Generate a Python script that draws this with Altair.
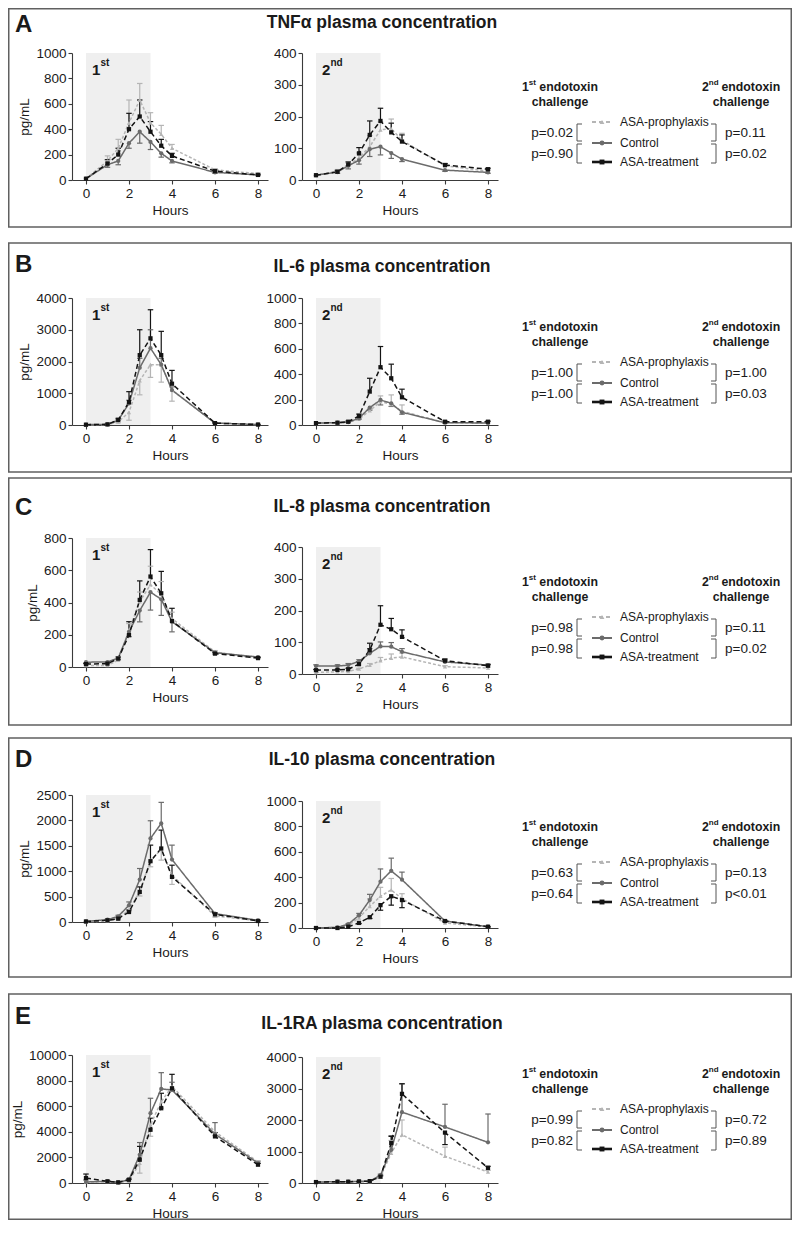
import altair as alt
import pandas as pd

# ---------------------------------------------------------------- data
TIMES = [0, 1, 1.5, 2, 2.5, 3, 3.5, 4, 6, 8]
SERIES = ["ASA-prophylaxis", "Control", "ASA-treatment"]
HOUR_TICKS = [0, 2, 4, 6, 8]
SHADE_HOURS = [0, 3]

LETTERS = ["A", "B", "C", "D", "E"]
TITLES = ["TNFα plasma concentration", "IL-6 plasma concentration",
          "IL-8 plasma concentration", "IL-10 plasma concentration",
          "IL-1RA plasma concentration"]
CHALLENGE_NUM = ["1", "2"]
CHALLENGE_SUP = ["st", "nd"]

YMAX_1ST = [1000, 4000, 800, 2500, 10000]
YMAX_2ND = [400, 1000, 400, 1000, 4000]
YTICKS_1ST = [[0, 200, 400, 600, 800, 1000], [0, 1000, 2000, 3000, 4000],
              [0, 200, 400, 600, 800], [0, 500, 1000, 1500, 2000, 2500],
              [0, 2000, 4000, 6000, 8000, 10000]]
YTICKS_2ND = [[0, 100, 200, 300, 400], [0, 200, 400, 600, 800, 1000],
              [0, 100, 200, 300, 400], [0, 200, 400, 600, 800, 1000],
              [0, 1000, 2000, 3000, 4000]]

P_1ST_TOP = ["p=0.02", "p=1.00", "p=0.98", "p=0.63", "p=0.99"]
P_1ST_BOT = ["p=0.90", "p=1.00", "p=0.98", "p=0.64", "p=0.82"]
P_2ND_TOP = ["p=0.11", "p=1.00", "p=0.11", "p=0.13", "p=0.72"]
P_2ND_BOT = ["p=0.02", "p=0.03", "p=0.02", "p<0.01", "p=0.89"]

# TNF-alpha
TNF1_PRO = [10, 150, 250, 450, 630, 450, 360, 250, 80, 50]
TNF1_PRO_E = [0, 40, 70, 180, 130, 80, 70, 30, 10, 5]
TNF1_CON = [10, 120, 150, 290, 380, 300, 210, 150, 60, 40]
TNF1_CON_E = [0, -20, -30, -40, -90, -60, -30, -15, -8, -5]
TNF1_TRE = [10, 130, 200, 400, 500, 380, 270, 190, 70, 40]
TNF1_TRE_E = [0, 30, 50, 125, 130, 80, 50, 20, 10, 5]
TNF2_PRO = [15, 28, 45, 70, 105, 158, 162, 125, 45, 28]
TNF2_PRO_E = [0, 5, 8, 15, 35, 25, 30, 22, 5, 3]
TNF2_CON = [15, 25, 45, 62, 97, 105, 85, 66, 31, 24]
TNF2_CON_E = [0, -4, -10, -12, -23, -26, -17, -8, -4, -3]
TNF2_TRE = [15, 26, 49, 84, 142, 186, 150, 121, 47, 34]
TNF2_TRE_E = [0, 4, 8, 18, 44, 40, 29, 21, 5, 3]
# IL-6
IL6_1_PRO = [5, 10, 100, 400, 1400, 1900, 1900, 1100, 60, 15]
IL6_1_PRO_E = [0, 0, -30, -250, -450, -400, -550, -350, -10, 0]
IL6_1_CON = [10, 20, 150, 680, 1800, 2420, 1900, 1100, 60, 15]
IL6_1_CON_E = [0, 0, 20, 100, 300, 580, 200, 100, 10, 0]
IL6_1_TRE = [10, 20, 160, 720, 2200, 2730, 2200, 1300, 60, 15]
IL6_1_TRE_E = [0, 5, 50, 330, 800, 900, 750, 420, 10, 5]
IL6_2_PRO = [15, 18, 22, 45, 113, 184, 163, 108, 18, 15]
IL6_2_PRO_E = [0, 0, 3, 8, 15, 45, 74, 50, 3, 0]
IL6_2_CON = [15, 18, 22, 53, 137, 197, 171, 100, 18, 16]
IL6_2_CON_E = [0, 0, -3, -8, -20, -39, -25, -15, -3, 0]
IL6_2_TRE = [15, 18, 26, 71, 263, 455, 368, 218, 26, 26]
IL6_2_TRE_E = [0, 2, 5, 15, 105, 163, 111, 64, 4, 4]
# IL-8
IL8_1_PRO = [10, 10, 42, 229, 405, 510, 450, 300, 94, 52]
IL8_1_PRO_E = [0, 0, 5, 40, 60, 115, 80, 40, 8, 5]
IL8_1_CON = [30, 31, 56, 218, 350, 464, 420, 281, 89, 62]
IL8_1_CON_E = [-10, -5, -10, -30, -70, -111, -100, -63, -8, -5]
IL8_1_TRE = [18, 21, 52, 198, 416, 561, 457, 285, 83, 56]
IL8_1_TRE_E = [5, 5, 10, 83, 118, 167, 136, 79, 8, 5]
IL8_2_PRO = [5, 7, 8, 16, 28, 42, 50, 54, 23, 19]
IL8_2_PRO_E = [0, 0, 0, 2, 5, 10, 13, 12, 3, 3]
IL8_2_CON = [25, 25, 28, 40, 65, 87, 86, 70, 38, 28]
IL8_2_CON_E = [4, 4, 5, 5, 15, 14, 13, 10, 4, 3]
IL8_2_TRE = [12, 13, 15, 31, 75, 155, 141, 117, 42, 26]
IL8_2_TRE_E = [2, 2, 3, 8, 22, 60, 34, 22, 5, 3]
# IL-10
IL10_1_PRO = [5, 20, 60, 243, 592, 1217, 1428, 920, 118, 25]
IL10_1_PRO_E = [0, 0, -10, -40, -80, -130, -210, -180, -20, -5]
IL10_1_CON = [13, 46, 112, 329, 836, 1645, 1941, 1230, 164, 33]
IL10_1_CON_E = [0, 10, 20, 66, 217, 348, 414, 283, 20, 5]
IL10_1_TRE = [10, 33, 66, 197, 592, 1197, 1447, 888, 151, 20]
IL10_1_TRE_E = [0, 5, 15, 40, 99, 316, 362, 230, 20, 5]
IL10_2_PRO = [0, 5, 20, 80, 170, 250, 300, 230, 40, 8]
IL10_2_PRO_E = [0, 0, 5, 20, 60, 70, 90, 40, 5, 2]
IL10_2_CON = [0, 5, 30, 100, 220, 365, 450, 380, 55, 10]
IL10_2_CON_E = [0, 0, 5, 15, 45, 100, 100, 60, 5, 2]
IL10_2_TRE = [0, 0, 10, 40, 85, 180, 250, 220, 55, 10]
IL10_2_TRE_E = [0, 0, 0, -5, -10, -40, -70, -60, -5, -2]
# IL-1RA
IL1RA_1_PRO = [80, 100, 20, 150, 1550, 4550, 6350, 7550, 4000, 1650]
IL1RA_1_PRO_E = [0, 0, 0, 0, -780, -900, -500, -400, -300, -100]
IL1RA_1_CON = [80, 130, 50, 260, 2200, 5450, 7350, 7270, 3820, 1560]
IL1RA_1_CON_E = [150, 30, 20, 50, 960, 1170, 1270, 600, 900, 150]
IL1RA_1_TRE = [390, 130, 50, 260, 1820, 4160, 5840, 7400, 3640, 1430]
IL1RA_1_TRE_E = [310, 30, 20, 50, 1040, 900, 1170, 1090, 300, 100]
IL1RA_2_PRO = [20, 25, 30, 30, 40, 200, 950, 1530, 850, 350]
IL1RA_2_PRO_E = [0, 0, 0, 0, 0, 30, 400, 470, 290, 50]
IL1RA_2_CON = [30, 40, 40, 50, 60, 250, 1050, 2250, 1780, 1290]
IL1RA_2_CON_E = [0, 0, 0, 0, 0, 30, 450, 900, 720, 900]
IL1RA_2_TRE = [30, 40, 40, 50, 60, 200, 1270, 2830, 1600, 480]
IL1RA_2_TRE_E = [0, 0, 0, 0, 0, 30, 210, 320, -380, 50]

FIRST = [
    ((TNF1_PRO, TNF1_CON, TNF1_TRE), (TNF1_PRO_E, TNF1_CON_E, TNF1_TRE_E)),
    ((IL6_1_PRO, IL6_1_CON, IL6_1_TRE), (IL6_1_PRO_E, IL6_1_CON_E, IL6_1_TRE_E)),
    ((IL8_1_PRO, IL8_1_CON, IL8_1_TRE), (IL8_1_PRO_E, IL8_1_CON_E, IL8_1_TRE_E)),
    ((IL10_1_PRO, IL10_1_CON, IL10_1_TRE), (IL10_1_PRO_E, IL10_1_CON_E, IL10_1_TRE_E)),
    ((IL1RA_1_PRO, IL1RA_1_CON, IL1RA_1_TRE), (IL1RA_1_PRO_E, IL1RA_1_CON_E, IL1RA_1_TRE_E)),
]
SECOND = [
    ((TNF2_PRO, TNF2_CON, TNF2_TRE), (TNF2_PRO_E, TNF2_CON_E, TNF2_TRE_E)),
    ((IL6_2_PRO, IL6_2_CON, IL6_2_TRE), (IL6_2_PRO_E, IL6_2_CON_E, IL6_2_TRE_E)),
    ((IL8_2_PRO, IL8_2_CON, IL8_2_TRE), (IL8_2_PRO_E, IL8_2_CON_E, IL8_2_TRE_E)),
    ((IL10_2_PRO, IL10_2_CON, IL10_2_TRE), (IL10_2_PRO_E, IL10_2_CON_E, IL10_2_TRE_E)),
    ((IL1RA_2_PRO, IL1RA_2_CON, IL1RA_2_TRE), (IL1RA_2_PRO_E, IL1RA_2_CON_E, IL1RA_2_TRE_E)),
]

# ---------------------------------------------------------------- style / layout
FONT = "Liberation Sans"
TEXTC = "#1a1a1a"
AXC = "#3a3a3a"
SHADE = "#efefef"
COLORS = ["#b5b5b5", "#6b6b6b", "#141414"]
DASHES = [[3, 2], [1, 0], [5, 3]]
SHAPES = ["triangle-up", "circle", "square"]

W, H = 784, 1212
M = 8  # page margin
XLO, XHI = -0.65, 8.465
X_RANGES = [[64, 260], [294, 490]]

# page coordinates
GEOM = [
    dict(box=(2, 227), letter=25, title=23, p=[(53, 180), (53, 180)], hdr=87),
    dict(box=(243, 472), letter=265, title=267, p=[(298, 425), (298, 425)], hdr=327),
    dict(box=(478, 725), letter=508, title=507, p=[(538, 667), (547, 674)], hdr=582),
    dict(box=(738, 977), letter=760, title=760, p=[(795, 922), (801, 928)], hdr=827),
    dict(box=(994, 1233), letter=1017, title=1024, p=[(1055, 1183), (1057, 1183)], hdr=1074),
]

DUMMY = pd.DataFrame({"k": [0]})
CSCALE = alt.Scale(domain=SERIES, range=COLORS)
DSCALE = alt.Scale(domain=SERIES, range=DASHES)
SSCALE = alt.Scale(domain=SERIES, range=SHAPES)


def txt(s, x, y, size, weight="normal", align="left", color=TEXTC):
    return alt.Chart(DUMMY).mark_text(
        text=s, align=align, baseline="middle", font=FONT, fontSize=size,
        fontWeight=weight, color=color
    ).encode(x=alt.value(x), y=alt.value(y))


def seg(x1, y1, x2, y2, color="#555555", width=1.0, dash=None):
    kw = dict(color=color, strokeWidth=width)
    if dash is not None:
        kw["strokeDash"] = dash
    return alt.Chart(DUMMY).mark_rule(**kw).encode(
        x=alt.value(x1), x2=alt.value(x2), y=alt.value(y1), y2=alt.value(y2))


def subplot(vals, errs, ymax, yticks, xr, pt, pb, ytitle):
    rows = []
    for s, v, e in zip(SERIES, vals, errs):
        for t, vi, ei in zip(TIMES, v, e):
            rows.append({"series": s, "t": t, "v": vi, "e": ei, "vend": vi + ei})
    df = pd.DataFrame(rows)
    xs = alt.Scale(domain=[XLO, XHI], range=xr, nice=False, zero=False)
    ys = alt.Scale(domain=[0, ymax], range=[pb, pt], nice=False, zero=False)
    xax = alt.Axis(orient="bottom", offset=pb - H, values=HOUR_TICKS, title="Hours",
                   grid=False, labelFlush=False, labelOverlap=False)
    if ytitle:
        yax = alt.Axis(orient="left", offset=-xr[0], values=yticks, format="d", title=ytitle,
                       grid=False, labelOverlap=False)
    else:
        yax = alt.Axis(orient="left", offset=-xr[0], values=yticks, format="d", title=None,
                       grid=False, labelOverlap=False)
    col = alt.Color("series:N", scale=CSCALE, legend=None)
    shade = alt.Chart(DUMMY).mark_rect(color=SHADE).encode(
        x=alt.XDatum(SHADE_HOURS[0], scale=xs, axis=None), x2=alt.X2Datum(SHADE_HOURS[1]),
        y=alt.YDatum(ymax, scale=ys, axis=None), y2=alt.Y2Datum(0))
    base = alt.Chart(df)
    err = base.mark_rule(strokeWidth=1.2).encode(
        x=alt.X("t:Q", scale=xs, axis=None), y=alt.Y("v:Q", scale=ys, axis=None),
        y2="vend:Q", color=col)
    caps = base.transform_filter("datum.e != 0").mark_point(
        shape="stroke", size=30, strokeWidth=1.2, filled=False, opacity=1).encode(
        x=alt.X("t:Q", scale=xs, axis=None), y=alt.Y("vend:Q", scale=ys, axis=None), color=col)
    line = base.mark_line(strokeWidth=1.5).encode(
        x=alt.X("t:Q", scale=xs, axis=xax), y=alt.Y("v:Q", scale=ys, axis=yax), color=col,
        strokeDash=alt.StrokeDash("series:N", scale=DSCALE, legend=None))
    pts = base.mark_point(filled=True, size=18, opacity=1).encode(
        x=alt.X("t:Q", scale=xs, axis=None), y=alt.Y("v:Q", scale=ys, axis=None), color=col,
        shape=alt.Shape("series:N", scale=SSCALE, legend=None))
    return [shade, err, caps, line, pts]


layers = []
for i in range(5):
    g = GEOM[i]
    top = max(0.75, g["box"][0] - M)
    bot = min(H - 0.75, g["box"][1] - M)
    layers.append(alt.Chart(DUMMY).mark_rect(fill="transparent", stroke="#606060", strokeWidth=1.5)
                  .encode(x=alt.value(0.75), x2=alt.value(W - 0.75), y=alt.value(top), y2=alt.value(bot)))
    layers.append(txt(LETTERS[i], 7, g["letter"] - M, 24, "bold"))
    layers.append(txt(TITLES[i], 374, g["title"] - M, 17.5, "bold", align="center"))

    for j, (dat, ymax, yt) in enumerate([(FIRST[i], YMAX_1ST[i], YTICKS_1ST[i]),
                                         (SECOND[i], YMAX_2ND[i], YTICKS_2ND[i])]):
        pt, pb = g["p"][j][0] - M, g["p"][j][1] - M
        xr = X_RANGES[j]
        layers += subplot(dat[0], dat[1], ymax, yt, xr, pt, pb, "pg/mL" if j == 0 else None)
        lx = xr[0] + 20
        layers.append(txt(CHALLENGE_NUM[j], lx, pt + 17, 15, "bold"))
        layers.append(txt(CHALLENGE_SUP[j], lx + 8.5, pt + 10, 10, "bold"))

    # legend block
    hdr = g["hdr"] - M
    layers.append(txt("1", 514, hdr, 12.3, "bold"))
    layers.append(txt("st", 520.8, hdr - 4, 8, "bold"))
    layers.append(txt("endotoxin", 531.3, hdr, 12.3, "bold"))
    layers.append(txt("challenge", 552, hdr + 15, 12.3, "bold", align="center"))
    layers.append(txt("2", 694, hdr, 12.3, "bold"))
    layers.append(txt("nd", 700.8, hdr - 4, 8, "bold"))
    layers.append(txt("endotoxin", 713.5, hdr, 12.3, "bold"))
    layers.append(txt("challenge", 733, hdr + 15, 12.3, "bold", align="center"))

    rows = [hdr + 35, hdr + 56, hdr + 75]
    leg_w = [2.0, 2.0, 2.6]
    leg_dash = [[4, 3], None, None]
    for k in range(3):
        layers.append(seg(584, rows[k], 604, rows[k], COLORS[k], leg_w[k], leg_dash[k]))
        layers.append(alt.Chart(DUMMY).mark_point(shape=SHAPES[k], filled=True, size=24,
                                                  color=COLORS[k], opacity=1)
                      .encode(x=alt.value(594), y=alt.value(rows[k])))
        layers.append(txt(SERIES[k], 612, rows[k], 12))

    brackets = [(rows[0] + 2, rows[1] - 2), (rows[1] + 1, rows[2] + 1)]
    p_left = [P_1ST_TOP[i], P_1ST_BOT[i]]
    p_right = [P_2ND_TOP[i], P_2ND_BOT[i]]
    for b, (ya, yb) in enumerate(brackets):
        # left bracket "["
        layers.append(seg(569, ya, 569, yb))
        layers.append(seg(569, ya, 574, ya))
        layers.append(seg(569, yb, 574, yb))
        # right bracket "]"
        layers.append(seg(708, ya, 708, yb))
        layers.append(seg(703, ya, 708, ya))
        layers.append(seg(703, yb, 708, yb))
        ym = (ya + yb) / 2
        layers.append(txt(p_left[b], 565, ym, 13.5, align="right"))
        layers.append(txt(p_right[b], 717, ym, 13.5))

chart = alt.layer(*layers).resolve_scale(x="independent", y="independent").properties(
    width=W, height=H, padding=0, autosize=alt.AutoSizeParams(type="none")
).configure_view(stroke="transparent").configure_axis(
    labelFont=FONT, titleFont=FONT, labelFontSize=13.5, titleFontSize=13.5,
    titleFontWeight="normal", labelColor=TEXTC, titleColor=TEXTC,
    domainColor=AXC, tickColor=AXC, domainWidth=1.1, tickWidth=1.1, tickSize=4,
    labelPadding=2, titlePadding=4
)

chart.save("out.html", embed_options={"renderer": "svg", "actions": False})
